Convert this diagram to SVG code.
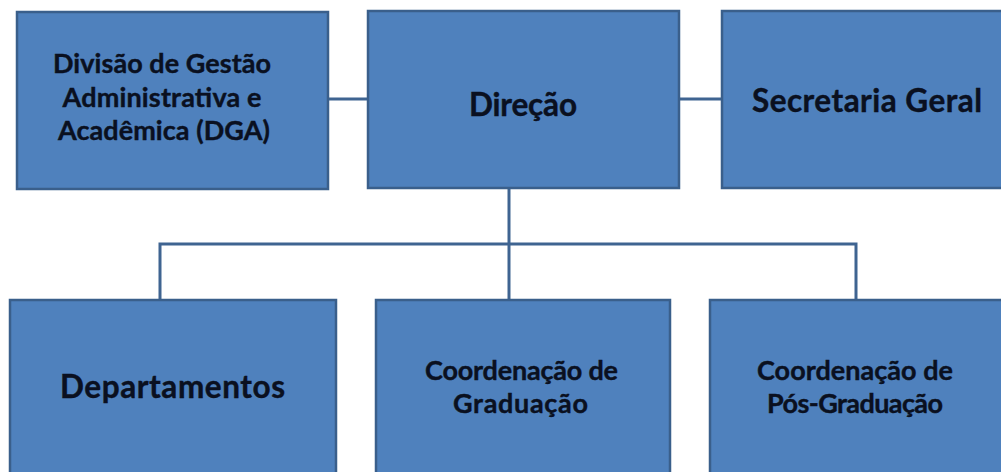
<svg xmlns="http://www.w3.org/2000/svg" width="1001" height="472" viewBox="0 0 1001 472">
<style>
.box{fill:#4F81BD;stroke:#3A5F8B;stroke-width:2.5}
.con{fill:none;stroke:#3F6491;stroke-width:3}
text{font-family:Lato,"Open Sans","DejaVu Sans",sans-serif;font-weight:bold;fill:#0A1020;text-anchor:middle;stroke:#0A1020;stroke-width:0.4}
.big{font-size:31.5px}
.sm{font-size:27px}
</style>
<rect width="1001" height="472" fill="#FFFFFF"/>
<g id="connectors">
<line class="con" x1="328" y1="99" x2="368" y2="99"/>
<line class="con" x1="679" y1="99" x2="722" y2="99"/>
<line class="con" x1="509" y1="188" x2="509" y2="300"/>
<polyline class="con" points="160,300 160,244 856,244 856,300"/>
</g>
<g id="dga">
<rect class="box" x="17" y="12" width="311" height="177"/>
<text class="sm" x="162" y="73" textLength="218">Divisão de Gestão</text>
<text class="sm" x="162" y="107" textLength="199">Administrativa e</text>
<text class="sm" x="164" y="140" textLength="212">Acadêmica (DGA)</text>
</g>
<g id="direcao">
<rect class="box" x="368" y="11" width="311" height="177"/>
<text class="big" x="523" y="116" textLength="108">Direção</text>
</g>
<g id="secretaria">
<rect class="box" x="722" y="11" width="300" height="177"/>
<text class="big" x="867" y="112" textLength="230">Secretaria Geral</text>
</g>
<g id="departamentos">
<rect class="box" x="10" y="300" width="326" height="190"/>
<text class="big" x="172.5" y="398" textLength="225">Departamentos</text>
</g>
<g id="coord-graduacao">
<rect class="box" x="376" y="300" width="294" height="190"/>
<text class="sm" x="521.5" y="380" textLength="193">Coordenação de</text>
<text class="sm" x="520.5" y="413" textLength="135">Graduação</text>
</g>
<g id="coord-pos">
<rect class="box" x="710" y="300" width="310" height="190"/>
<text class="sm" x="855" y="380" textLength="196">Coordenação de</text>
<text class="sm" x="855" y="413" textLength="176">Pós-Graduação</text>
</g>
</svg>
